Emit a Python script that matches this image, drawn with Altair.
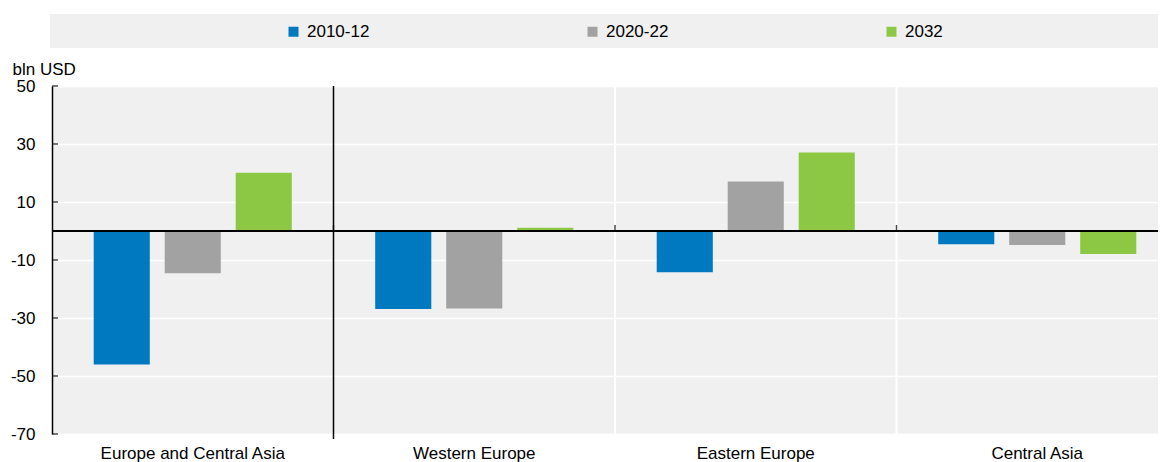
import altair as alt
import pandas as pd

categories = ["Europe and Central Asia", "Western Europe", "Eastern Europe", "Central Asia"]
series = ["2010-12", "2020-22", "2032"]
values_2010_12 = [-46.0, -26.9, -14.2, -4.6]
values_2020_22 = [-14.6, -26.7, 17.1, -4.8]
values_2032 = [20.1, 1.1, 27.1, -7.9]
colors = ["#0079C0", "#A2A2A2", "#8CC844"]
y_ticks = [-70, -50, -30, -10, 10, 30, 50]

rows = []
for s, vals in zip(series, [values_2010_12, values_2020_22, values_2032]):
    for c, v in zip(categories, vals):
        rows.append({"region": c, "period": s, "value": v})
df = pd.DataFrame(rows)

FONT = "Liberation Sans, Arial, sans-serif"
FS = 17
W, H = 1106, 348
XR = 1126  # x band range (last group runs past the visible edge, as in the original)

x_scale = alt.Scale(domain=categories, paddingInner=0, paddingOuter=0, range=[0, XR])
x_axis = alt.Axis(title=None, labelAngle=0, ticks=False, domain=False, labelPadding=11,
                  labelFontSize=FS, labelColor="#000", labelFont=FONT, labelLimit=300, grid=False)
y_scale = alt.Scale(domain=[-70, 50], nice=False)
y_axis = alt.Axis(values=y_ticks, title="bln USD", titleAngle=0, titleAlign="left",
                  titleBaseline="alphabetic", titleX=-40, titleY=-12, titleFont=FONT,
                  titleFontSize=FS, titleFontWeight="normal", titleColor="#000",
                  labelFont=FONT, labelFontSize=FS, labelColor="#000", labelPadding=17,
                  labelExpr="datum.value + ''",
                  ticks=False, domainColor="#000", domainWidth=1.5,
                  grid=True, gridColor="#ffffff", gridWidth=1.5)

legend_bg = alt.Chart(pd.DataFrame({"a": [0]})).mark_rect(color="#f0f0f0").encode(
    x=alt.value(-2), x2=alt.value(W), y=alt.value(-72), y2=alt.value(-38)
)

sep_white = alt.Chart(pd.DataFrame({"region": categories[2:]})).mark_rule(
    color="#ffffff", strokeWidth=2
).encode(
    x=alt.X("region:N", scale=x_scale, axis=x_axis, bandPosition=0),
    y=alt.value(0), y2=alt.value(H),
)

bars = alt.Chart(df).mark_bar().encode(
    x=alt.X("region:N", scale=x_scale, axis=x_axis),
    xOffset=alt.XOffset("period:N", sort=series,
                        scale=alt.Scale(domain=series, paddingInner=0.21, paddingOuter=0.5875)),
    y=alt.Y("value:Q", scale=y_scale, axis=y_axis),
    color=alt.Color("period:N", scale=alt.Scale(domain=series, range=colors),
                    legend=alt.Legend(title=None, orient="none", legendX=233, legendY=-63,
                                      direction="horizontal", symbolType="square",
                                      symbolSize=100, symbolStrokeWidth=0,
                                      labelFont=FONT, labelFontSize=FS, labelColor="#000",
                                      columnPadding=214, gridAlign="all", labelOffset=5,
                                      zindex=1, padding=0)),
)

zero_line = alt.Chart(pd.DataFrame({"a": [0]})).mark_rule(color="#000", strokeWidth=2).encode(
    y=alt.Y(datum=0, scale=y_scale)
)

sep_black = alt.Chart(pd.DataFrame({"region": categories[1:2]})).mark_rule(
    color="#000", strokeWidth=1.5
).encode(
    x=alt.X("region:N", scale=x_scale, axis=x_axis, bandPosition=0),
    y=alt.value(0), y2=alt.value(H + 5),
)

zero_ticks = alt.Chart(pd.DataFrame({"region": categories[1:]})).mark_tick(
    orient="vertical", size=6, thickness=1.5, color="#000", yOffset=-3
).encode(
    x=alt.X("region:N", scale=x_scale, axis=x_axis, bandPosition=0),
    y=alt.Y(datum=0, scale=y_scale),
)

y_tick_marks = alt.Chart(pd.DataFrame({"value": y_ticks})).mark_tick(
    orient="horizontal", size=6, thickness=1.5, color="#000"
).encode(
    y=alt.Y("value:Q", scale=y_scale, axis=y_axis),
    x=alt.value(3),
)

chart = alt.layer(
    legend_bg, sep_white, bars, zero_line, sep_black, zero_ticks, y_tick_marks
).properties(
    width=W, height=H,
    padding={"left": 44, "top": 78, "right": 0, "bottom": 28},
    autosize=alt.AutoSizeParams(type="none"),
).configure_view(fill="#f0f0f0", stroke=None)

chart.save("out.html", embed_options={"renderer": "svg", "actions": False})
